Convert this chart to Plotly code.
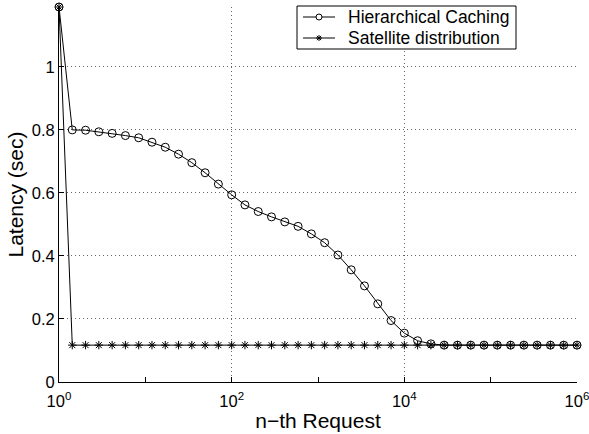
import plotly.graph_objects as go

# n-th request sample grid (log-spaced, 40 points from 1 to 1e6)
requests = [1, 1.425, 2.031, 2.894, 4.125, 5.878, 8.377, 11.94, 17.01, 24.24,
            34.55, 49.24, 70.17, 100, 142.5, 203.1, 289.4, 412.5, 587.8, 837.7,
            1194, 1701, 2424, 3455, 4924, 7017, 10000, 14251, 20309, 28943,
            41246, 58780, 83768, 119378, 170125, 242446, 345511, 492388, 701704, 1000000]

hierarchical = [1.19, 0.800, 0.799, 0.794, 0.789, 0.782, 0.775, 0.761, 0.745, 0.723,
                0.696, 0.664, 0.628, 0.594, 0.562, 0.541, 0.524, 0.508, 0.494, 0.470,
                0.442, 0.403, 0.356, 0.305, 0.248, 0.195, 0.155, 0.131, 0.121, 0.117,
                0.117, 0.117, 0.117, 0.117, 0.117, 0.117, 0.117, 0.117, 0.117, 0.117]

satellite = [1.19] + [0.117] * 39

series_names = ["Hierarchical Caching", "Satellite distribution"]

x_major = [1, 100, 10000, 1000000]
x_major_text = ["10<sup>0</sup>", "10<sup>2</sup>", "10<sup>4</sup>", "10<sup>6</sup>"]
x_minor = [10, 1000, 100000]
y_ticks = [0, 0.2, 0.4, 0.6, 0.8, 1.0]
y_text = ["0", "0.2", "0.4", "0.6", "0.8", "1"]

FONT = "Liberation Sans, Arial, Helvetica, sans-serif"
GRID = dict(showgrid=True, gridcolor="#666666", griddash="1px,3px", gridwidth=1)

W, H = 589, 434
ML, MR, MT, MB = 59, 12, 7, 52
PW, PH = W - ML - MR, H - MT - MB


def px(xp):
    return (xp - ML) / PW


def py(yp):
    return (H - MB - yp) / PH


fig = go.Figure()
fig.add_trace(go.Scatter(
    x=requests, y=hierarchical, mode="lines+markers", name=series_names[0],
    line=dict(color="black", width=1), cliponaxis=False,
    marker=dict(symbol="circle-open", size=8, color="black", line=dict(width=1)),
))
fig.add_trace(go.Scatter(
    x=requests, y=satellite, mode="lines+markers", name=series_names[1],
    line=dict(color="black", width=1), cliponaxis=False,
    marker=dict(symbol="asterisk-open", size=7, color="black", line=dict(width=1)),
))
# invisible trace to activate minor-tick overlay axis
fig.add_trace(go.Scatter(x=[1, 1000000], y=[0, 0], xaxis="x2", mode="lines",
                         line=dict(width=0), hoverinfo="skip"))

# ---- compact MATLAB-style legend drawn in paper coordinates ----
LEG_BOX = (297, 516, 6, 49)
LEG_ROWS = [17, 38]
LEG_LINE = (303, 335)
LEG_TEXT_X = 346
MR_PX = 3  # legend marker radius (px)

fig.add_shape(type="rect", xref="paper", yref="paper",
              x0=px(LEG_BOX[0]), x1=px(LEG_BOX[1]), y0=py(LEG_BOX[3]), y1=py(LEG_BOX[2]),
              line=dict(color="black", width=1), fillcolor="white", layer="above")
cx = (LEG_LINE[0] + LEG_LINE[1]) / 2
for i, (name, ry) in enumerate(zip(series_names, LEG_ROWS)):
    fig.add_shape(type="line", xref="paper", yref="paper",
                  x0=px(LEG_LINE[0]), x1=px(LEG_LINE[1]), y0=py(ry), y1=py(ry),
                  line=dict(color="black", width=1), layer="above")
    if i == 0:
        fig.add_shape(type="circle", xref="paper", yref="paper",
                      x0=px(cx - MR_PX), x1=px(cx + MR_PX),
                      y0=py(ry + MR_PX), y1=py(ry - MR_PX),
                      line=dict(color="black", width=1), fillcolor="white", layer="above")
    else:
        r = MR_PX
        d = r * 0.707
        path = (f"M {px(cx - r)},{py(ry)} L {px(cx + r)},{py(ry)} "
                f"M {px(cx)},{py(ry - r)} L {px(cx)},{py(ry + r)} "
                f"M {px(cx - d)},{py(ry - d)} L {px(cx + d)},{py(ry + d)} "
                f"M {px(cx - d)},{py(ry + d)} L {px(cx + d)},{py(ry - d)}")
        fig.add_shape(type="path", xref="paper", yref="paper", path=path,
                      line=dict(color="black", width=1), layer="above")
    fig.add_annotation(x=px(LEG_TEXT_X), y=py(ry), xref="paper", yref="paper", text=name,
                       showarrow=False, xanchor="left", yanchor="middle",
                       font=dict(size=17.5, color="black"))

fig.update_layout(
    width=W, height=H,
    margin=dict(l=ML, r=MR, t=MT, b=MB, autoexpand=False),
    paper_bgcolor="white", plot_bgcolor="white",
    font=dict(family=FONT, size=17.5, color="black"),
    showlegend=False,
    xaxis=dict(
        type="log", range=[0, 6.00001],
        tickvals=x_major, ticktext=x_major_text,
        tickfont=dict(size=16.5),
        ticks="inside", ticklen=5, tickcolor="black",
        ticklabelstandoff=4, ticklabeloverflow="allow", automargin=False,
        showline=True, linecolor="black", linewidth=1,
        zeroline=False,
        title=dict(text="n−th Request", standoff=4),
        **GRID,
    ),
    xaxis2=dict(
        type="log", range=[0, 6.00001], overlaying="x", side="bottom",
        tickvals=x_minor, ticktext=["", "", ""], automargin=False,
        ticks="inside", ticklen=5, tickcolor="black",
        showgrid=False, showline=False, zeroline=False,
    ),
    yaxis=dict(
        range=[0, 1.19],
        tickvals=y_ticks, ticktext=y_text,
        tickfont=dict(size=16.5), automargin=False,
        ticks="inside", ticklen=5, tickcolor="black",
        showline=True, linecolor="black", linewidth=1,
        zeroline=False,
        title=dict(text="Latency (sec)", standoff=2),
        **GRID,
    ),
)

fig.write_html("out.html")
